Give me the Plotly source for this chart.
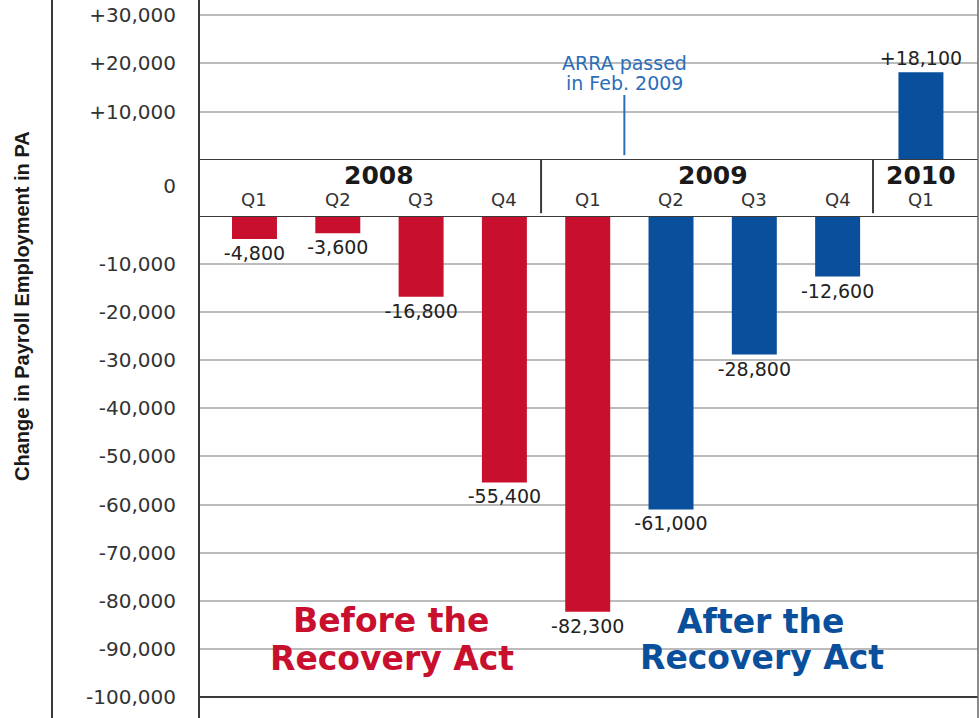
import plotly.graph_objects as go

# ---- data ----
quarters = ["Q1", "Q2", "Q3", "Q4", "Q1", "Q2", "Q3", "Q4", "Q1"]
years = ["2008", "2009", "2010"]
year_quarter_count = [4, 4, 1]
changes = [-4800, -3600, -16800, -55400, -82300, -61000, -28800, -12600, 18100]
period = ["Before", "Before", "Before", "Before", "Before", "After", "After", "After", "After"]
pos_ticks = [10000, 20000, 30000]
pos_tick_text = ["+10,000", "+20,000", "+30,000"]
neg_ticks = [-10000, -20000, -30000, -40000, -50000, -60000, -70000, -80000, -90000, -100000]
neg_tick_text = ["-10,000", "-20,000", "-30,000", "-40,000", "-50,000",
                 "-60,000", "-70,000", "-80,000", "-90,000", "-100,000"]
arra_text = ["ARRA passed", "in Feb. 2009"]

RED = "#C8102E"
BLUE = "#0A4F9C"
ARRA_BLUE = "#2C6DB8"
GRID = "#bcbcbc"
DARK = "#3a3a3a"
colors = {"Before": RED, "After": BLUE}

W, H = 979, 718
L_PX = 199
PW = W - L_PX - 1
BAND_TOP = 160
BAND_BOT = 216

def fmt(v):
    s = f"{abs(v):,}"
    return ("+" if v > 0 else "-") + s

x_idx = list(range(len(changes)))

fig = go.Figure()

neg = [(i, v) for i, v in zip(x_idx, changes) if v < 0]
posv = [(i, v) for i, v in zip(x_idx, changes) if v > 0]

label_font = dict(family="DejaVu Sans", size=19, color="#222222")

fig.add_trace(go.Bar(
    x=[i for i, _ in neg], y=[v for _, v in neg],
    marker=dict(color=[colors[period[i]] for i, _ in neg], line=dict(width=0)),
    width=0.54, text=[fmt(v) for _, v in neg], textposition="outside",
    constraintext="none", textangle=0,
    textfont=label_font, cliponaxis=False, xaxis="x", yaxis="y2",
    showlegend=False, hoverinfo="skip"))

fig.add_trace(go.Bar(
    x=[i for i, _ in posv], y=[v for _, v in posv],
    marker=dict(color=[colors[period[i]] for i, _ in posv], line=dict(width=0)),
    width=0.54, text=[fmt(v) for _, v in posv], textposition="outside",
    constraintext="none", textangle=0,
    textfont=label_font, cliponaxis=False, xaxis="x", yaxis="y",
    showlegend=False, hoverinfo="skip"))

top_dom = [1 - BAND_TOP / H, 1.0]
bot_dom = [0.0, 1 - BAND_BOT / H]
mid_dom = [bot_dom[1], top_dom[0]]

tick_font = dict(family="DejaVu Sans", size=20, color="#333333")

fig.update_layout(
    width=W, height=H,
    margin=dict(l=L_PX, r=1, t=0, b=0),
    paper_bgcolor="white", plot_bgcolor="white",
    barmode="overlay",
    xaxis=dict(range=[-0.666, 8.685], showgrid=False, zeroline=False,
               showticklabels=False, showline=False, anchor="y2"),
    yaxis=dict(domain=top_dom, range=[0, 33000], tickvals=pos_ticks,
               ticktext=pos_tick_text, showgrid=True, gridcolor=GRID, gridwidth=1.5,
               zeroline=False, showline=False, ticks="", tickfont=tick_font,
               ticklabelstandoff=22, anchor="x"),
    yaxis2=dict(domain=bot_dom, range=[-104370, 0], tickvals=neg_ticks,
                ticktext=neg_tick_text, showgrid=True, gridcolor=GRID, gridwidth=1.5,
                zeroline=False, showline=False, ticks="", tickfont=tick_font,
                ticklabelstandoff=22, anchor="x"),
    yaxis3=dict(domain=mid_dom, range=[0, 1], tickvals=[0.54], ticktext=["0"],
                showgrid=False, zeroline=False, showline=False, ticks="",
                tickfont=tick_font, ticklabelstandoff=22, anchor="x"),
)

shapes = []
shapes.append(dict(type="line", xref="paper", x0=0, x1=1, yref="y", y0=0, y1=0,
                   line=dict(color=DARK, width=2)))
shapes.append(dict(type="line", xref="paper", x0=0, x1=1, yref="y2", y0=0, y1=0,
                   line=dict(color=DARK, width=2)))
shapes.append(dict(type="line", xref="paper", x0=0, x1=1, yref="y2", y0=-100000, y1=-100000,
                   line=dict(color=DARK, width=2)))
shapes.append(dict(type="line", xref="paper", x0=0, x1=0, yref="paper", y0=0, y1=1,
                   line=dict(color=DARK, width=2)))
shapes.append(dict(type="line", xref="paper", x0=(52 - L_PX) / PW, x1=(52 - L_PX) / PW,
                   yref="paper", y0=0, y1=1, line=dict(color=DARK, width=2)))
shapes.append(dict(type="line", xref="paper", x0=1, x1=1, yref="paper", y0=0, y1=1,
                   line=dict(color="#666666", width=1.5)))
for sx in [3.44, 7.425]:
    shapes.append(dict(type="line", xref="x", x0=sx, x1=sx, yref="y3", y0=0.05, y1=1,
                       line=dict(color=DARK, width=2)))
shapes.append(dict(type="line", xref="x", x0=4.44, x1=4.44, yref="y", y0=1000, y1=13400,
                   line=dict(color=ARRA_BLUE, width=2)))
fig.update_layout(shapes=shapes)

ann = []
for i, q in enumerate(quarters):
    ann.append(dict(x=i, y=0.29, xref="x", yref="y3", text=q, showarrow=False,
                    xanchor="center", yanchor="middle",
                    font=dict(family="DejaVu Sans", size=18, color="#333333")))
start = 0
for yr, n in zip(years, year_quarter_count):
    cx = start + (n - 1) / 2
    ann.append(dict(x=cx, y=0.72, xref="x", yref="y3", text=f"<b>{yr}</b>", showarrow=False,
                    xanchor="center", yanchor="middle",
                    font=dict(family="DejaVu Sans", size=25, color="#1a1a1a")))
    start += n
ann.append(dict(x=4.44, y=20000, xref="x", yref="y", text=arra_text[0], showarrow=False,
                xanchor="center", yanchor="middle",
                font=dict(family="DejaVu Sans", size=19, color=ARRA_BLUE)))
ann.append(dict(x=4.44, y=15900, xref="x", yref="y", text=arra_text[1], showarrow=False,
                xanchor="center", yanchor="middle",
                font=dict(family="DejaVu Sans", size=19, color=ARRA_BLUE)))
big = dict(family="DejaVu Sans", size=33, color=RED)
big2 = dict(big, color=BLUE)
for txt, cx, cy, f in [("Before the", 391, 620, big), ("Recovery Act", 392, 658, big),
                       ("After the", 760, 621, big2), ("Recovery Act", 762, 657, big2)]:
    ann.append(dict(x=(cx - L_PX) / PW, y=1 - cy / H, xref="paper", yref="paper",
                    xanchor="center", yanchor="middle",
                    text=f"<b>{txt}</b>", showarrow=False, font=f))
ann.append(dict(x=(22 - L_PX) / PW, y=1 - 306 / H, xref="paper", yref="paper",
                xanchor="center", yanchor="middle",
                text="<b>Change in Payroll Employment in PA</b>", textangle=-90,
                showarrow=False, font=dict(family="Liberation Sans", size=20, color="#1a1a1a")))
fig.update_layout(annotations=ann)

fig.write_html("out.html", config={"displayModeBar": False},
               post_script="document.body.style.margin='0';")
